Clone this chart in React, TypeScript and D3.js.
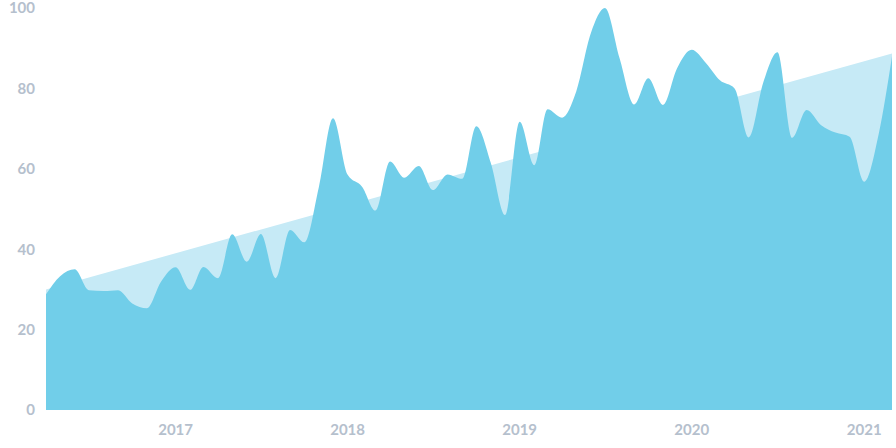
import * as d3 from "d3";
import React from "react";

const months = [
  "2016-04", "2016-05", "2016-06", "2016-07", "2016-08", "2016-09", "2016-10", "2016-11", "2016-12",
  "2017-01", "2017-02", "2017-03", "2017-04", "2017-05", "2017-06", "2017-07", "2017-08", "2017-09",
  "2017-10", "2017-11", "2017-12", "2018-01", "2018-02", "2018-03", "2018-04", "2018-05", "2018-06",
  "2018-07", "2018-08", "2018-09", "2018-10", "2018-11", "2018-12", "2019-01", "2019-02", "2019-03",
  "2019-04", "2019-05", "2019-06", "2019-07", "2019-08", "2019-09", "2019-10", "2019-11", "2019-12",
  "2020-01", "2020-02", "2020-03", "2020-04", "2020-05", "2020-06", "2020-07", "2020-08", "2020-09",
  "2020-10", "2020-11", "2020-12", "2021-01", "2021-02", "2021-03",
];

const interest = [
  28.8, 33.3, 35, 29.8, 29.6, 29.8, 26.5, 25.3, 31.9,
  35.5, 29.9, 35.6, 32.8, 43.7, 36.9, 43.8, 32.8, 44.8,
  41.7, 55.5, 72.6, 58.5, 55.5, 49.6, 61.8, 57.8, 60.7,
  54.7, 58.6, 57.5, 70.6, 61.4, 48.5, 71.7, 60.9, 74.8,
  72.7, 79.2, 93.7, 100, 87.5, 76, 82.5, 75.9, 85,
  89.6, 86.2, 82, 80, 67.8, 81.5, 89, 67.7, 74.6,
  70.9, 69, 68, 56.8, 68.8, 88,
];

// straight trend line, start and end value
const trendMonths = ["2016-04", "2021-03"];
const trendValues = [30, 88.7];

const yTicks = [0, 20, 40, 60, 80, 100];
const xTickYears = ["2017", "2018", "2019", "2020", "2021"];

const width = 896;
const height = 448;
const left = 46;
const right = 892;
const top = 8;
const bottom = 410;

const parse = d3.timeParse("%Y-%m");
const labelColor = "#b5c0cd";

export default function App() {
  const x = d3
    .scaleTime()
    .domain([parse(months[0])!, parse(months[months.length - 1])!])
    .range([left, right]);
  const y = d3.scaleLinear().domain([0, 100]).range([bottom, top]);

  const mainArea = d3
    .area<number>()
    .x((_, i) => x(parse(months[i])!))
    .y0(y(0))
    .y1((d) => y(d))
    .curve(d3.curveMonotoneX);

  const trendArea = d3
    .area<number>()
    .x((_, i) => x(parse(trendMonths[i])!))
    .y0(y(0))
    .y1((d) => y(d));

  return (
    <svg
      width={width}
      height={height}
      style={{ position: "absolute", left: 0, top: 0 }}
      fontFamily="Lato, sans-serif"
      fontWeight={700}
    >
      <path d={trendArea(trendValues) ?? ""} fill="#c6eaf6" />
      <path d={mainArea(interest) ?? ""} fill="#71cee9" />
      {yTicks.map((t) => (
        <text
          key={t}
          x={35}
          y={y(t)}
          dy="0.36em"
          textAnchor="end"
          fontSize={15}
          fill={labelColor}
        >
          {t}
        </text>
      ))}
      {xTickYears.map((yr) => (
        <text
          key={yr}
          x={x(d3.timeParse("%Y")(yr)!)}
          y={435}
          textAnchor="middle"
          fontSize={15}
          fill={labelColor}
        >
          {yr}
        </text>
      ))}
    </svg>
  );
}
